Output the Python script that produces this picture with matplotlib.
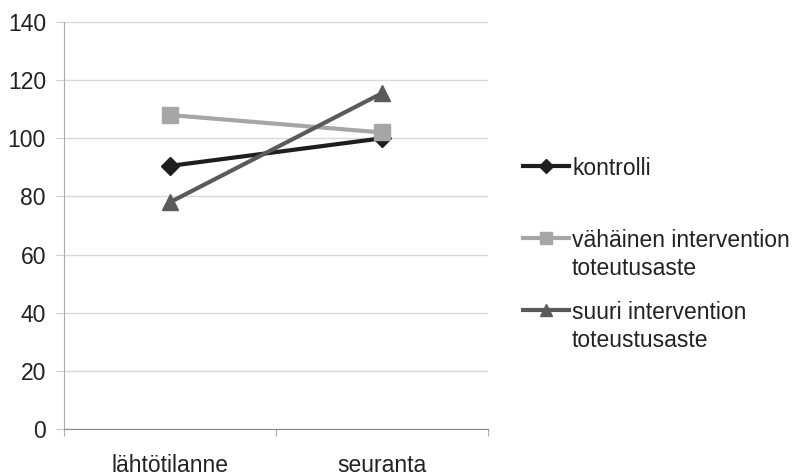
import matplotlib.pyplot as plt
from matplotlib.lines import Line2D

plt.rcParams['font.family'] = ['Liberation Sans', 'DejaVu Sans']

# data
categories = ['lähtötilanne', 'seuranta']
kontrolli = [90.5, 100]
vahainen = [108, 102]
suuri = [78, 115.5]
labels = ['kontrolli', 'vähäinen intervention\ntoteutusaste', 'suuri intervention\ntoteustusaste']
colors = ['#1e1e1e', '#a6a6a6', '#5a5a5a']
markers = ['D', 's', '^']
msizes = [9, 11, 11]

fig = plt.figure(figsize=(7.94, 4.76), dpi=100)
ax = fig.add_axes([64 / 794, 1 - 429 / 476, 424 / 794, 407 / 476])

x = list(range(len(categories)))
for vals, c, m, ms in zip([kontrolli, vahainen, suuri], colors, markers, msizes):
    ax.plot(x, vals, color=c, lw=3, marker=m, ms=ms, zorder=3)

ax.set_xlim(-0.5, 1.5)
ax.set_ylim(0, 140)
ax.set_yticks(range(0, 141, 20))
ax.grid(axis='y', color='#d9d9d9', lw=1)
ax.set_axisbelow(True)
ax.set_xticks([-0.5, 0.5, 1.5])
ax.set_xticklabels([])
ax.set_xticks(x, minor=True)
ax.set_xticklabels(categories, minor=True, fontsize=16.5, color='#222222')
ax.tick_params(axis='x', which='minor', length=0, pad=18)
ax.tick_params(axis='x', which='major', length=5, color='#aaaaaa')
ax.tick_params(axis='y', length=6, color='#cccccc', labelsize=16.5, labelcolor='#222222', pad=7)
for s in ['top', 'right']:
    ax.spines[s].set_visible(False)
ax.spines['left'].set_color('#aaaaaa')
ax.spines['bottom'].set_color('#888888')

# legend drawn by hand to keep Excel-like placement
leg_y = [166, 238, 310]
for yy, lab, c, m, ms in zip(leg_y, labels, colors, markers, msizes):
    fy = 1 - yy / 476
    fig.add_artist(Line2D([523 / 794, 569 / 794], [fy, fy], color=c, lw=3,
                          transform=fig.transFigure))
    fig.add_artist(Line2D([546 / 794], [fy], color=c, marker=m, ms=ms * 0.8, lw=0,
                          transform=fig.transFigure))
    fig.text(572 / 794, fy + 9 / 476, lab, fontsize=16.5, va='top', ha='left',
             color='#222222', linespacing=1.3)

fig.savefig('out.png', dpi=100)
